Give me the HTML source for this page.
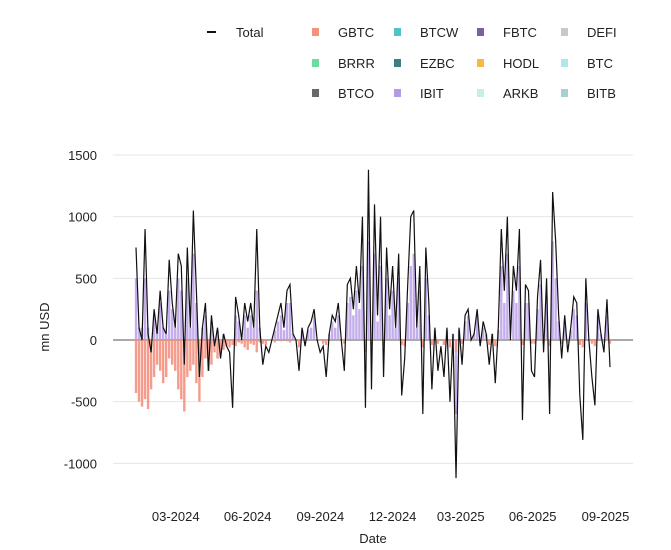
<!DOCTYPE html>
<html><head><meta charset="utf-8"><style>
body{margin:0;background:#fff;font-family:"Liberation Sans",sans-serif}
svg{display:block}
text{font-family:"Liberation Sans",sans-serif;fill:#222}
</style></head><body>
<svg id="c" width="671" height="550"></svg>
<script>
const totals=[750,100,0,900,50,-100,250,50,400,100,50,650,300,100,700,600,-200,750,100,1050,400,-300,100,300,-250,200,-50,100,-150,50,-50,-100,-550,
350,200,0,300,150,300,100,900,100,-200,-50,-100,0,100,200,300,100,400,450,50,0,-250,100,-50,100,150,250,0,
-100,-50,-300,50,200,150,300,0,-250,450,500,250,600,300,1000,-550,1380,-400,1100,200,1000,-300,
750,250,600,100,700,-450,-150,450,1000,1050,100,600,-600,750,300,-400,100,-250,-50,
-300,100,-500,50,-1120,100,-200,200,250,0,50,250,-50,150,50,-200,50,-350,
100,900,400,1000,0,600,400,900,-650,450,400,-250,-300,350,650,-100,500,-600,1200,800,200,-150,
200,-100,100,350,300,-450,-810,500,0,-300,-530,250,50,-100,330,-220];
const ibit=[500,100,100,500,100,0,200,100,300,100,50,400,250,100,500,400,0,500,100,700,300,0,100,200,0,150,0,80,0,50,0,0,0,
200,150,0,200,100,200,100,400,100,0,0,0,0,80,150,200,80,300,300,50,0,0,80,0,80,100,200,0,
0,0,0,50,150,100,200,0,0,300,350,200,400,250,600,0,800,0,700,150,600,0,
500,200,400,100,500,0,0,300,600,700,100,400,0,500,200,0,80,0,0,
0,80,0,50,-600,80,0,150,200,0,50,200,0,100,50,0,50,0,
80,600,300,700,0,400,300,600,0,300,300,0,0,250,450,0,350,0,800,500,150,0,
150,0,80,250,200,0,0,300,0,0,0,200,50,0,200,0];
const gbtc=[-430,-500,-540,-480,-560,-400,-300,-200,-250,-350,-300,-150,-200,-250,-400,-480,-580,-300,-250,-200,-350,-500,-300,-150,-250,-200,-100,-150,-100,-80,-50,-60,-40,
-50,-20,-30,-60,-80,-30,-40,-100,-20,-30,-40,0,0,-20,0,-10,0,-10,-20,0,0,-60,0,-20,0,0,0,0,
0,-30,-40,0,0,0,0,0,-30,0,0,0,0,0,0,-100,0,-50,0,0,0,-40,
0,0,0,0,0,-40,-50,0,0,0,0,0,-60,0,0,-40,0,-30,0,
-40,0,-60,0,-100,0,-30,0,0,0,0,0,-20,0,0,-40,0,-50,
0,0,0,0,0,0,0,0,-40,0,0,-30,-30,0,0,-20,0,-50,0,0,0,-30,
0,-20,0,0,0,-40,-60,0,0,-30,-50,0,0,-20,0,-30];
const yTicks=[-1000,-500,0,500,1000,1500];
const xTickLabels=["03-2024","06-2024","09-2024","12-2024","03-2025","06-2025","09-2025"];
const xTickFrac=[0.0838,0.2356,0.3890,0.5413,0.6851,0.8369,0.9906];

const svg=document.getElementById('c');const NS='http://www.w3.org/2000/svg';
function el(t,a,p){const e=document.createElementNS(NS,t);for(const k in a)e.setAttribute(k,a[k]);(p||svg).appendChild(e);return e;}
const X0=136,X1=610,PL=113,PR=633;
const y=v=>340-v*0.12333;
const x=i=>X0+(X1-X0)*i/(totals.length-1);
const xf=f=>X0+(X1-X0)*f;
yTicks.forEach(t=>{
 const g=el('line',{x1:PL,x2:PR,y1:y(t),y2:y(t),stroke:t===0?'#555':'#e4e4e4','stroke-width':1});
 
 
 const tx=el('text',{x:97,y:y(t)+5,'text-anchor':'end','font-size':13});tx.textContent=t;
 
 
});
xTickLabels.forEach((l,i)=>{
 const tx=el('text',{x:xf(xTickFrac[i]),y:521,'text-anchor':'middle','font-size':13});tx.textContent=l;
 
 
});
totals.forEach((t,i)=>{
 const xi=x(i);
 const ib=ibit[i];
 if(ib){const r=el('rect',{x:xi-1.2,width:2.4,y:Math.min(y(0),y(ib)),height:Math.abs(y(ib)-y(0)),fill:'#b598e6',opacity:0.8});
 
 }
 const gb=gbtc[i];
 if(gb){const r=el('rect',{x:xi-1.2,width:2.4,y:y(0),height:y(gb)-y(0),fill:'#f4917f',opacity:0.9});
 
 }
});
const pl=el('polyline',{points:totals.map((t,i)=>x(i)+','+y(t)).join(' '),fill:'none',stroke:'#111','stroke-width':1.2});


const yl=el('text',{x:49,y:327,'text-anchor':'middle','font-size':13,transform:'rotate(-90 49 327)'});yl.textContent='mn USD';


const xl=el('text',{x:373,y:543,'text-anchor':'middle','font-size':13});xl.textContent='Date';


const dl=el('line',{x1:207,x2:216,y1:32,y2:32,stroke:'#111','stroke-width':2});


const lt=el('text',{x:236,y:37,'font-size':13});lt.textContent='Total';


const legNames=[["GBTC","BTCW","FBTC","DEFI"],["BRRR","EZBC","HODL","BTC"],["BTCO","IBIT","ARKB","BITB"]];
const legCols=[["#f4917f","#4fc3c8","#7b5ea7","#c8c8c8"],["#6ddc9c","#3e7f86","#f5b94a","#b2e6ea"],["#666b69","#b598e6","#c8f1dc","#a9cfcf"]];
const cx=[312,394,477,561],ry=[32,63,93];
legNames.forEach((row,r)=>row.forEach((n,c)=>{
 const s=el('rect',{x:cx[c],y:ry[r]-4,width:7,height:8,fill:legCols[r][c]});
 
 
 const t=el('text',{x:cx[c]+26,y:ry[r]+5,'font-size':13});t.textContent=n;
 
 
}));
</script>
</body></html>
